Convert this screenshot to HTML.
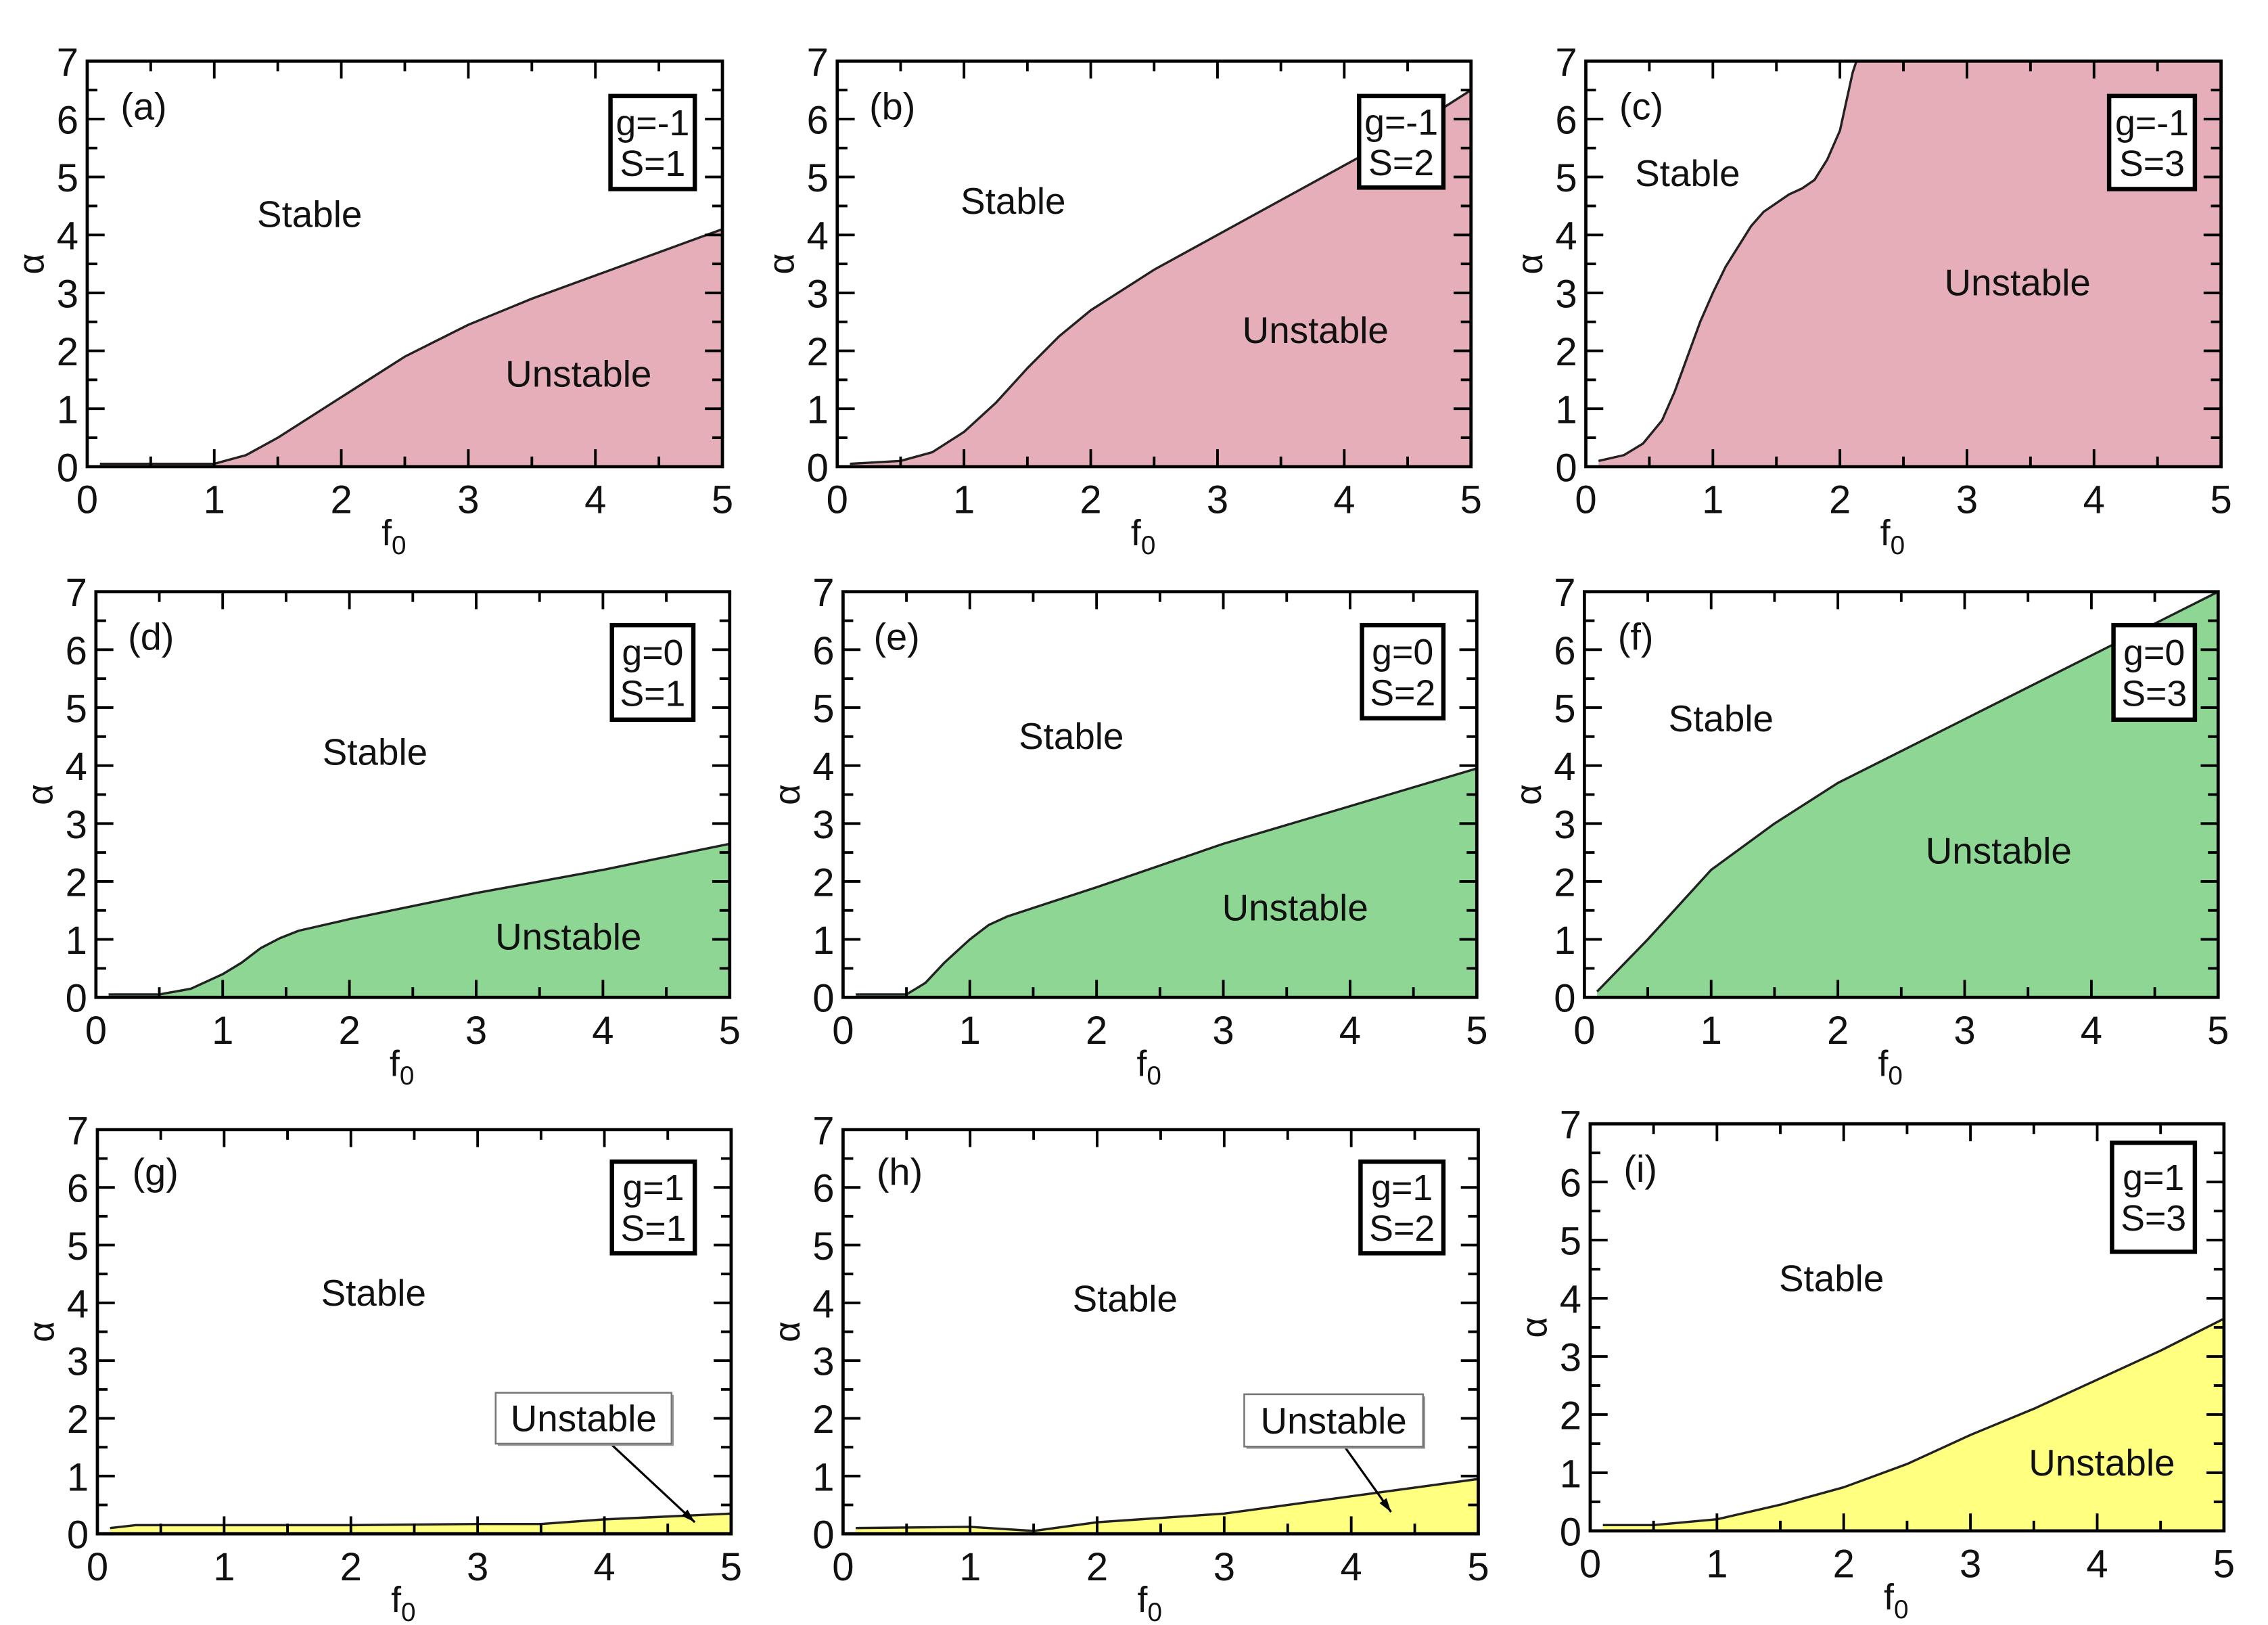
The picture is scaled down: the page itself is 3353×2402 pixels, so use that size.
<!DOCTYPE html>
<html><head><meta charset="utf-8">
<style>
html,body{margin:0;padding:0;background:#fff;}
svg{display:block;}
text{font-family:"Liberation Sans",sans-serif;fill:#111;}
</style></head>
<body>
<svg id="fig" width="3353" height="2402" viewBox="0 0 1560.3 1117.7" xmlns="http://www.w3.org/2000/svg"></svg>
<script>
// ---- data (f0, alpha boundary) per panel ----
const fA=[0.1,0.5,1,1.25,1.5,1.75,2,2.25,2.5,3,3.5,4,4.5,5];
const aA=[0.05,0.05,0.05,0.2,0.5,0.85,1.2,1.55,1.9,2.45,2.9,3.3,3.7,4.1];
const fB=[0.1,0.5,0.75,1,1.25,1.5,1.75,2,2.5,3,3.5,4,4.5,5];
const aB=[0.05,0.1,0.25,0.6,1.1,1.7,2.25,2.7,3.4,4.0,4.6,5.2,5.8,6.5];
const fC=[0.1,0.3,0.45,0.6,0.7,0.8,0.9,1,1.1,1.2,1.3,1.4,1.5,1.6,1.7,1.8,1.9,2.0,2.05,2.1,2.13];
const aC=[0.1,0.2,0.4,0.8,1.3,1.9,2.5,3.0,3.45,3.8,4.15,4.4,4.55,4.7,4.8,4.95,5.3,5.8,6.3,6.8,7];
const fD=[0.1,0.5,0.75,1,1.15,1.3,1.45,1.6,2,3,4,5];
const aD=[0.05,0.05,0.15,0.4,0.6,0.85,1.02,1.15,1.35,1.8,2.2,2.65];
const fE=[0.1,0.5,0.65,0.8,1,1.15,1.3,2,3,4,5];
const aE=[0.05,0.05,0.25,0.6,1.0,1.25,1.4,1.9,2.65,3.3,3.95];
const fF=[0.1,0.5,1,1.5,2,3,4,5];
const aF=[0.1,1.0,2.2,3.0,3.7,4.8,5.9,7.0];
const fG=[0.1,0.3,1,2,3,3.5,4,5];
const aG=[0.1,0.15,0.15,0.15,0.17,0.17,0.25,0.35];
const fH=[0.1,1,1.5,2,3,4,5];
const aH=[0.1,0.12,0.05,0.2,0.35,0.65,0.95];
const fI=[0.1,0.5,1,1.5,2,2.5,3,3.5,4,4.5,5];
const aI=[0.1,0.1,0.2,0.45,0.75,1.15,1.65,2.1,2.6,3.1,3.65];
const xTicks=[0,1,2,3,4,5];
const yTicks=[0,1,2,3,4,5,6,7];

const NS="http://www.w3.org/2000/svg";
const svg=document.getElementById('fig');
function mk(tag,attrs,parent){const e=document.createElementNS(NS,tag);for(const k in attrs)e.setAttribute(k,attrs[k]);(parent||svg).appendChild(e);return e;}

const panels=[
 {id:'a',L:60,R:497,T:42,B:321,f:fA,a:aA,col:'#e5aeb8',g:'-1',S:'1',box:[420,66,58,64],lab:[83,73],st:[213,147],un:[398,257]},
 {id:'b',L:576,R:1012,T:42,B:321,f:fB,a:aB,col:'#e5aeb8',g:'-1',S:'2',box:[935,66,58,63],lab:[598,73],st:[697,138],un:[905,227]},
 {id:'c',L:1091,R:1528,T:42,B:321,f:fC,a:aC,col:'#e5aeb8',g:'-1',S:'3',box:[1451,66,59,64],lab:[1114,73],st:[1161,119],un:[1388,194]},
 {id:'d',L:66,R:502,T:407,B:686,f:fD,a:aD,col:'#8dd694',g:'0',S:'1',box:[421,430,56,65],lab:[88,438],st:[258,517],un:[391,644]},
 {id:'e',L:580,R:1016,T:407,B:686,f:fE,a:aE,col:'#8dd694',g:'0',S:'2',box:[937,430,56,64],lab:[601,438],st:[737,506],un:[891,624]},
 {id:'f',L:1090,R:1526,T:407,B:686,f:fF,a:aF,col:'#8dd694',g:'0',S:'3',box:[1454,430,56,65],lab:[1113,438],st:[1184,494],un:[1375,585]},
 {id:'g',L:67,R:503,T:777,B:1055,f:fG,a:aG,col:'#ffff80',g:'1',S:'1',box:[421,799,57,63],lab:[91,806],st:[257,889],unbox:[341,958,121,35],arrow:[420,993,478,1047]},
 {id:'h',L:580,R:1017,T:777,B:1055,f:fH,a:aH,col:'#ffff80',g:'1',S:'2',box:[936,799,57,63],lab:[603,806],st:[774,893],unbox:[856,959,123,36],arrow:[925,995,957,1040]},
 {id:'i',L:1094,R:1530,T:773,B:1053,f:fI,a:aI,col:'#ffff80',g:'1',S:'3',box:[1453,786,57,75],lab:[1117,804],st:[1260,879],un:[1446,1006]}
];

panels.forEach(p=>{
  const G=mk('g',{});
  
  
  const xs=v=>p.L+(p.R-p.L)*v/5;
  const ys=v=>p.B-(p.B-p.T)*v/7;
  let d='M'+xs(p.f[0])+','+ys(0);
  for(let i=0;i<p.f.length;i++) d+=' L'+xs(p.f[i])+','+ys(p.a[i]);
  const last=p.f[p.f.length-1];
  if(last<5){d+=' L'+xs(5)+','+ys(7);}
  d+=' L'+xs(5)+','+ys(0)+' Z';
  const reg=mk('path',{d:d,fill:p.col,stroke:'none'},G);
  
  
  let ld='';
  for(let i=0;i<p.f.length;i++) ld+=(i?' L':'M')+xs(p.f[i])+','+ys(p.a[i]);
  const bl=mk('path',{d:ld,fill:'none',stroke:'#222',"stroke-width":1.6,"stroke-linejoin":"round"},G);
  
  
  for(let v=0;v<=5.001;v+=0.5){
    const len=(Math.abs(v-Math.round(v))<0.01)?12:7;
    mk('line',{x1:xs(v),x2:xs(v),y1:p.B,y2:p.B-len,stroke:'#000',"stroke-width":1.8},G);
    mk('line',{x1:xs(v),x2:xs(v),y1:p.T,y2:p.T+len,stroke:'#000',"stroke-width":1.8},G);
  }
  for(let v=0;v<=7.001;v+=0.5){
    const len=(Math.abs(v-Math.round(v))<0.01)?12:7;
    mk('line',{x1:p.L,x2:p.L+len,y1:ys(v),y2:ys(v),stroke:'#000',"stroke-width":1.8},G);
    mk('line',{x1:p.R,x2:p.R-len,y1:ys(v),y2:ys(v),stroke:'#000',"stroke-width":1.8},G);
  }
  const fr=mk('rect',{x:p.L,y:p.T,width:p.R-p.L,height:p.B-p.T,fill:'none',stroke:'#000',"stroke-width":2.2},G);
  
  
  xTicks.forEach(v=>{
    const t=mk('text',{x:xs(v),y:p.B+32,"text-anchor":"middle","font-size":27},G);t.textContent=v;
    
    
  });
  yTicks.forEach(v=>{
    const t=mk('text',{x:p.L-6,y:ys(v)+10,"text-anchor":"end","font-size":27},G);t.textContent=v;
    
    
  });
  const xt=mk('text',{x:(p.L+p.R)/2-16,y:p.B+54,"font-size":25},G);
  xt.innerHTML='f<tspan font-size="18" dy="6">0</tspan>';
  
  
  const cy=(p.T+p.B)/2;
  const yt=mk('text',{x:p.L-30,y:cy,"font-size":25,"text-anchor":"middle",transform:'rotate(-90 '+(p.L-30)+' '+cy+')'},G);
  yt.textContent='α';
  
  
  const pl=mk('text',{x:p.lab[0],y:p.lab[1]+9,"font-size":26},G);pl.textContent='('+p.id+')';
  
  
  const b=p.box;
  const br=mk('rect',{x:b[0],y:b[1],width:b[2],height:b[3],fill:'#fff',stroke:'#000',"stroke-width":3},G);
  
  
  const t1=mk('text',{x:b[0]+b[2]/2,y:b[1]+b[3]/2-5,"font-size":25,"text-anchor":"middle"},G);t1.textContent='g='+p.g;
  
  
  const t2=mk('text',{x:b[0]+b[2]/2,y:b[1]+b[3]/2+23,"font-size":25,"text-anchor":"middle"},G);t2.textContent='S='+p.S;
  
  
  const st=mk('text',{x:p.st[0],y:p.st[1]+9,"font-size":25.5,"text-anchor":"middle"},G);st.textContent='Stable';
  
  
  if(p.un){
    const un=mk('text',{x:p.un[0],y:p.un[1]+9,"font-size":25.5,"text-anchor":"middle"},G);un.textContent='Unstable';
    
    
  } else {
    const u=p.unbox,ar=p.arrow;
    mk('line',{x1:ar[0],y1:ar[1],x2:ar[2],y2:ar[3],stroke:'#000',"stroke-width":1.5},G);
    const ang=Math.atan2(ar[3]-ar[1],ar[2]-ar[0]);
    const hx=ar[2],hy=ar[3],s=10;
    mk('polygon',{points:hx+','+hy+' '+(hx-s*Math.cos(ang-0.3))+','+(hy-s*Math.sin(ang-0.3))+' '+(hx-s*Math.cos(ang+0.3))+','+(hy-s*Math.sin(ang+0.3)),fill:'#000'},G);
    mk('rect',{x:u[0]+1.5,y:u[1]+1.5,width:u[2],height:u[3],fill:'#999'},G);
    const ub=mk('rect',{x:u[0],y:u[1],width:u[2],height:u[3],fill:'#fff',stroke:'#777',"stroke-width":1.2},G);
    
    
    const un=mk('text',{x:u[0]+u[2]/2,y:u[1]+u[3]/2+9,"font-size":25.5,"text-anchor":"middle"},G);un.textContent='Unstable';
    
    
  }
});
</script>
</body></html>
